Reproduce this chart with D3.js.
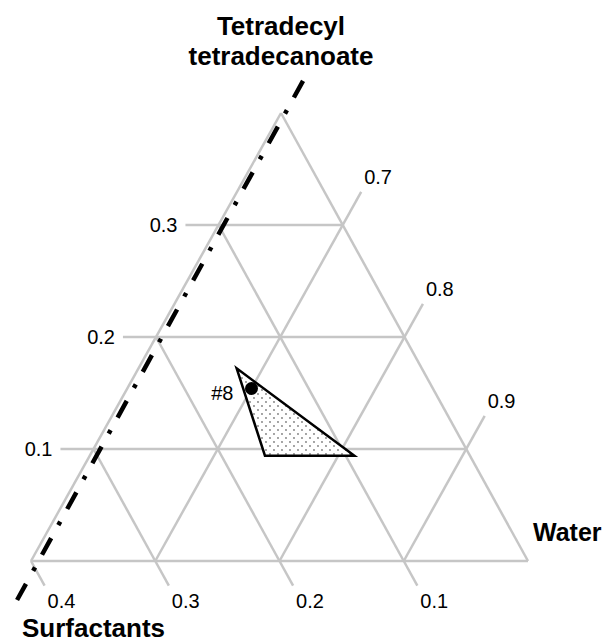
<!DOCTYPE html>
<html>
<head>
<meta charset="utf-8">
<title>Ternary diagram</title>
<script src="https://cdn.jsdelivr.net/npm/d3@7"></script>
<style>
  body { margin: 0; background: #fff; }
  text { font-family: "Liberation Sans", Arial, sans-serif; fill: #000; }
  .grid { stroke: #c6c6c6; stroke-width: 2.5; fill: none; }
  .tick-label { font-size: 20px; }
  .axis-title { font-size: 26px; font-weight: bold; }
</style>
</head>
<body>
<svg id="chart"></svg>
<script>
// composition fractions: s = surfactants, w = water, t = tetradecyl tetradecanoate
var tTicks = [0.1, 0.2, 0.3];
var sTicks = [0.4, 0.3, 0.2, 0.1];
var wTicks = [0.7, 0.8, 0.9];

// shaded region (outline points)
var region = [
  {s: 0.149, w: 0.679, t: 0.172},
  {s: 0.165, w: 0.741, t: 0.094},
  {s: 0.093, w: 0.813, t: 0.094}
];

var samples = [{label: "#8", s: 0.146, w: 0.700, t: 0.154}];

// dash-dot boundary line
var boundary = [
  {s: -0.032, w: 0.6033, t: 0.4287},
  {s: 0.4285, w: 0.6063, t: -0.0348}
];

var width = 607, height = 643;
var originX = 31;

var svg = d3.select("#chart").attr("width", width).attr("height", height);

// window of the diagram: w in [0.6,1], t in [0,0.4]
var xW = d3.scaleLinear().domain([0.6, 1]).range([0, 497]);
var xT = d3.scaleLinear().domain([0, 0.4]).range([0, 250]);
var yT = d3.scaleLinear().domain([0, 0.4]).range([561, 113]);

function proj(p) {
  return [originX + xW(p.w) + xT(p.t), yT(p.t)];
}
function seg(a, b) { return [proj(a), proj(b)]; }

var line = d3.line();

// dot pattern for the region
var defs = svg.append("defs");
var pat = defs.append("pattern")
  .attr("id", "dots")
  .attr("patternUnits", "userSpaceOnUse")
  .attr("width", 8).attr("height", 8);
pat.append("rect").attr("width", 8).attr("height", 8).attr("fill", "#fff");
pat.append("circle").attr("cx", 2).attr("cy", 2).attr("r", 0.65).attr("fill", "#000");
pat.append("circle").attr("cx", 6).attr("cy", 6).attr("r", 0.65).attr("fill", "#000");

// grid + edges
var segs = [];
// base, left edge, right edge
segs.push(seg({w: 0.6, t: 0}, {w: 1, t: 0}));
segs.push(seg({w: 0.6, t: 0}, {w: 0.6, t: 0.4}));
segs.push(seg({w: 1, t: 0}, {w: 0.6, t: 0.4}));

tTicks.forEach(function(t) {
  segs.push(seg({w: 0.6, t: t}, {w: 1 - t, t: t}));
  segs.push(seg({w: 0.6 - 0.0266, t: t}, {w: 0.6, t: t}));
});
sTicks.forEach(function(s) {
  segs.push(seg({w: 1 - s, t: 0}, {w: 0.6, t: 0.4 - s}));
  segs.push(seg({w: 1 - s, t: 0}, {w: 1 - s + 0.022, t: -0.022}));
});
wTicks.forEach(function(w) {
  segs.push(seg({w: w, t: 0}, {w: w, t: 1 - w + 0.0295}));
});

svg.append("g").selectAll("path")
  .data(segs)
  .enter().append("path")
  .attr("class", "grid")
  .attr("d", function(d) { return line(d); });

// tick labels
var lab = svg.append("g").attr("class", "tick-label");

lab.selectAll(".tl").data(tTicks).enter().append("text")
  .attr("x", function(t) { return proj({w: 0.6 - 0.0266, t: t})[0] - 8; })
  .attr("y", function(t) { return proj({w: 0.6, t: t})[1]; })
  .attr("dy", "0.35em")
  .attr("text-anchor", "end")
  .attr("class", "tick-label")
  .text(function(d) { return d.toFixed(1); });

lab.selectAll(".sl").data(sTicks).enter().append("text")
  .attr("x", function(s) { return proj({w: 1 - s + 0.022, t: -0.022})[0] + 3; })
  .attr("y", function(s) { return proj({w: 1 - s + 0.022, t: -0.022})[1] + 15; })
  .attr("dy", "0.35em")
  .attr("class", "tick-label")
  .text(function(d) { return d.toFixed(1); });

lab.selectAll(".wl").data(wTicks).enter().append("text")
  .attr("x", function(w) { return proj({w: w, t: 1 - w + 0.0295})[0] + 3; })
  .attr("y", function(w) { return proj({w: w, t: 1 - w + 0.0295})[1] - 15; })
  .attr("dy", "0.35em")
  .attr("class", "tick-label")
  .text(function(d) { return d.toFixed(1); });

// shaded region
svg.append("path")
  .datum(region)
  .attr("d", function(d) { return line(d.map(proj)) + "Z"; })
  .attr("fill", "url(#dots)")
  .attr("stroke", "#000")
  .attr("stroke-width", 2.5)
  .attr("stroke-linejoin", "miter");

// boundary line
svg.append("path")
  .datum(boundary)
  .attr("d", function(d) { return line(d.map(proj)); })
  .attr("fill", "none")
  .attr("stroke", "#000")
  .attr("stroke-width", 4.5)
  .attr("stroke-dasharray", "19,14.4,4,14.8");

// sample point
var pts = svg.append("g").selectAll("g").data(samples).enter().append("g");
pts.append("circle")
  .attr("cx", function(d) { return proj(d)[0]; })
  .attr("cy", function(d) { return proj(d)[1]; })
  .attr("r", 6.5)
  .attr("fill", "#000");
pts.append("text")
  .attr("class", "tick-label")
  .attr("x", function(d) { return proj(d)[0] - 18; })
  .attr("y", function(d) { return proj(d)[1] + 4; })
  .attr("dy", "0.35em")
  .attr("text-anchor", "end")
  .text(function(d) { return d.label; });

// axis titles
var apex = proj({w: 0.6, t: 0.4});
svg.append("text").attr("class", "axis-title")
  .attr("x", apex[0]).attr("y", 35).attr("text-anchor", "middle")
  .text("Tetradecyl");
svg.append("text").attr("class", "axis-title")
  .attr("x", apex[0]).attr("y", 65).attr("text-anchor", "middle")
  .text("tetradecanoate");
svg.append("text").attr("class", "axis-title")
  .attr("x", 533).attr("y", 541).style("font-size", "25px")
  .text("Water");
svg.append("text").attr("class", "axis-title")
  .attr("x", 22).attr("y", 637)
  .text("Surfactants");
</script>
</body>
</html>
